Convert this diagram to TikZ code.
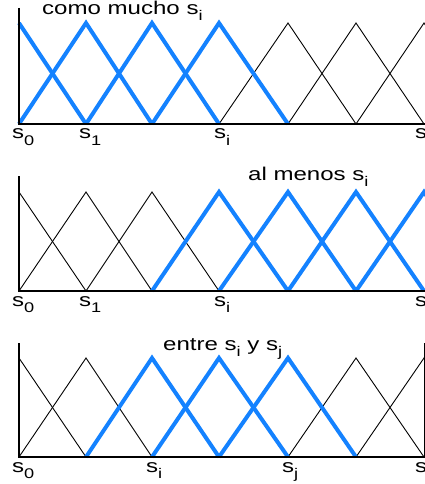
\documentclass[tikz,border=0pt]{standalone}
\usepackage{fontspec}
\setmainfont{Liberation Sans}[FakeStretch=1.3]
\definecolor{fblue}{RGB}{20,130,255}
\tikzset{
  thinline/.style={black, line width=0.9pt, line join=miter},
  blueline/.style={fblue, line width=4pt, line join=miter},
  axisline/.style={black, line width=2.5pt, line join=miter},
  ticklabel/.style={anchor=base west, inner sep=0pt, font=\fontsize{18.5}{18.5}\selectfont},
  titlelabel/.style={anchor=base west, inner sep=0pt, font=\fontsize{18.5}{18.5}\selectfont},
}
\newcommand{\mysub}[1]{\raisebox{-6.5pt}{\fontsize{14}{14}\selectfont #1}}
% triangle: style, left, peak, right  (uses \B and \P)
\newcommand{\tri}[4]{\draw[#1] (#2,\B) -- (#3,\P) -- (#4,\B);}
\begin{document}
\begin{tikzpicture}[x=1pt,y=-1pt]
\useasboundingbox (0,0) rectangle (425,484);

% ---------- Panel 1 ----------
\def\B{124}\def\P{23}
\tri{thinline}{219}{288}{356}
\tri{thinline}{288}{356}{424}
\tri{thinline}{356}{424}{492}
\draw[blueline] (19,\P) -- (86,\B);
\tri{blueline}{19}{86}{152}
\tri{blueline}{86}{152}{219}
\tri{blueline}{152}{219}{288}
\coordinate (a1top) at (19,8);
\coordinate (a1org) at (19,124);
\coordinate (a1end) at (432,124);
\draw[axisline] (a1top) -- (a1org) -- (a1end);
\node[titlelabel] (t1) at (42,14.5) {como mucho s\mysub{i}};
\node[ticklabel] (l10) at (12,139) {s\mysub{0}};
\node[ticklabel] (l11) at (79,139) {s\mysub{1}};
\node[ticklabel] (l1i) at (214,139) {s\mysub{i}};
\node[ticklabel] (l19) at (415,139) {s\mysub{9}};

% ---------- Panel 2 ----------
\def\B{291}\def\P{192}
\draw[thinline] (19,\P) -- (86,\B);
\tri{thinline}{19}{86}{152}
\tri{thinline}{86}{152}{219}
\tri{blueline}{152}{219}{288}
\tri{blueline}{219}{288}{356}
\tri{blueline}{288}{356}{424}
\tri{blueline}{356}{424}{492}
\coordinate (a2top) at (19,176);
\coordinate (a2org) at (19,291);
\coordinate (a2end) at (432,291);
\draw[axisline] (a2top) -- (a2org) -- (a2end);
\node[titlelabel] (t2) at (248,180) {al menos s\mysub{i}};
\node[ticklabel] (l20) at (12,306) {s\mysub{0}};
\node[ticklabel] (l21) at (79,306) {s\mysub{1}};
\node[ticklabel] (l2i) at (214,306) {s\mysub{i}};
\node[ticklabel] (l29) at (415,306) {s\mysub{9}};

% ---------- Panel 3 ----------
\def\B{457}\def\P{358}
\draw[thinline] (19,\P) -- (86,\B);
\tri{thinline}{19}{86}{152}
\tri{thinline}{288}{356}{424}
\tri{thinline}{356}{424}{492}
\tri{blueline}{86}{152}{219}
\tri{blueline}{152}{219}{288}
\tri{blueline}{219}{288}{356}
\coordinate (r3top) at (424,343);
\coordinate (r3bot) at (424,457);
\draw[thinline] (r3top) -- (r3bot);
\coordinate (a3top) at (19,343);
\coordinate (a3org) at (19,457);
\coordinate (a3end) at (432,457);
\draw[axisline] (a3top) -- (a3org) -- (a3end);
\node[titlelabel] (t3) at (163,350) {entre s\mysub{i} y s\mysub{j}};
\node[ticklabel] (l30) at (12,472) {s\mysub{0}};
\node[ticklabel] (l3i) at (146,472) {s\mysub{i}};
\node[ticklabel] (l3j) at (282,472) {s\mysub{j}};
\node[ticklabel] (l39) at (415,472) {s\mysub{9}};
\end{tikzpicture}
\end{document}
